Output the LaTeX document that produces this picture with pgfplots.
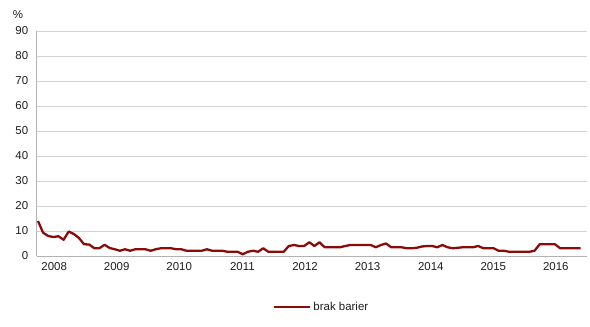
\documentclass[border=0pt]{standalone}
\usepackage{fontspec}
\setmainfont{Liberation Sans}
\usepackage{pgfplots}
\pgfplotsset{compat=1.18}
\definecolor{linered}{RGB}{139,10,10}
\definecolor{gridgray}{RGB}{210,210,210}
\definecolor{txt}{RGB}{30,30,30}
\begin{document}
\begin{tikzpicture}[x=1bp,y=1bp]
\useasboundingbox (-38,-70) rectangle (552,256);
\begin{axis}[
  at={(0,0)}, anchor=origin,
  scale only axis, width=550bp, height=225bp,
  xmin=-0.25, xmax=107.2, ymin=0, ymax=90,
  ytick={0,10,...,90},
  xtick={3.17,15.38,27.59,39.94,52.18,64.39,76.74,88.96,101.17},
  xticklabels={2008,2009,2010,2011,2012,2013,2014,2015,2016},
  axis x line*=bottom, axis y line*=left,
  axis line style={gridgray!85!black, line width=1pt, -},
  ymajorgrids, grid style={gridgray, line width=1pt},
  major tick length=0pt,
  tick label style={font=\fontsize{11.5}{13}\selectfont, text=txt},
  /pgf/number format/assume math mode=true,
  yticklabel style={xshift=-5bp},
  xticklabel style={yshift=-3bp},
  legend style={at={(0.518,-0.227)}, anchor=center, draw=none, fill=none,
    font=\fontsize{11.5}{13}\selectfont, text=txt,
    /tikz/every even column/.append style={column sep=0bp}},
  legend cell align=left,
  legend image code/.code={\draw[#1, line width=2.4pt] (0bp,0bp) -- (36bp,0bp);},
]
\addplot[color=linered, line width=2.3pt, line join=round] coordinates {
(0,14) (1,9.3) (2,8.0) (3,7.6) (4,7.9) (5,6.5) (6,9.8) (7,8.8) (8,7.2) (9,4.7)
(10,4.6) (11,3.1) (12,3.1) (13,4.5) (14,3.2) (15,2.7) (16,2.1) (17,2.7) (18,2.1) (19,2.7)
(20,2.7) (21,2.7) (22,2.1) (23,2.7) (24,3.1) (25,3.1) (26,3.1) (27,2.7) (28,2.7) (29,2.1)
(30,2.1) (31,2.1) (32,2.1) (33,2.7) (34,2.1) (35,2.1) (36,2.1) (37,1.7) (38,1.7) (39,1.7)
(40,0.7) (41,1.7) (42,2.1) (43,1.7) (44,3.1) (45,1.7) (46,1.7) (47,1.7) (48,1.7) (49,4.0)
(50,4.4) (51,4.0) (52,4.0) (53,5.5) (54,4.0) (55,5.5) (56,3.5) (57,3.5) (58,3.5) (59,3.5)
(60,4.0) (61,4.4) (62,4.4) (63,4.4) (64,4.4) (65,4.4) (66,3.5) (67,4.4) (68,5.0) (69,3.5)
(70,3.5) (71,3.5) (72,3.1) (73,3.1) (74,3.3) (75,3.8) (76,4.0) (77,4.0) (78,3.5) (79,4.4)
(80,3.5) (81,3.1) (82,3.3) (83,3.5) (84,3.5) (85,3.5) (86,4.0) (87,3.1) (88,3.1) (89,3.1)
(90,2.1) (91,2.1) (92,1.7) (93,1.7) (94,1.7) (95,1.7) (96,1.7) (97,2.1) (98,4.7) (99,4.7)
(100,4.7) (101,4.7) (102,3.1) (103,3.1) (104,3.1) (105,3.1) (106,3.1)
};
\addlegendentry{brak barier}
\end{axis}
\node[font=\fontsize{11.5}{13}\selectfont, text=txt] at (-20,241) {\%};
\end{tikzpicture}
\end{document}
